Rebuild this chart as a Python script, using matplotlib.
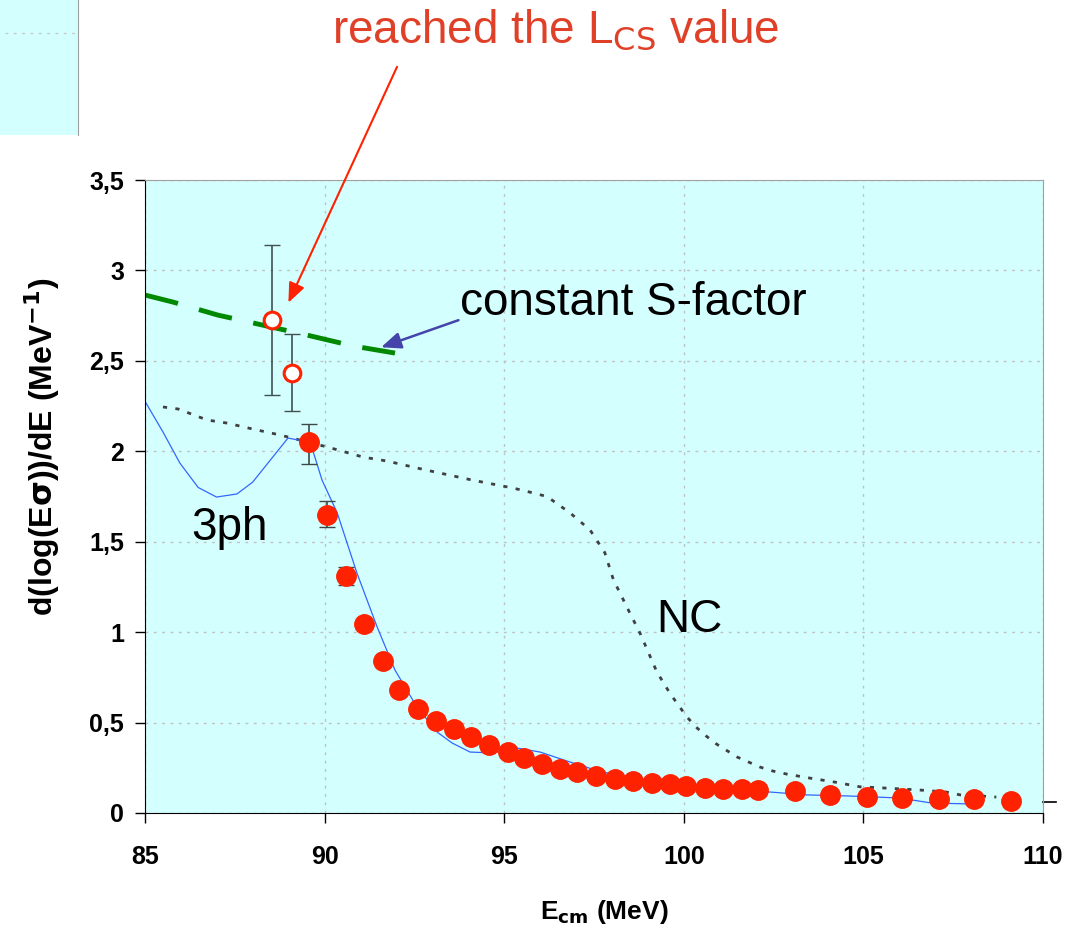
import matplotlib.pyplot as plt
from matplotlib.ticker import FuncFormatter

plt.rcParams['font.family'] = ['Liberation Sans', 'DejaVu Sans']

# measured points (filled)
e_data = [89.57, 90.07, 90.6, 91.1, 91.63, 92.07, 92.6, 93.1, 93.6, 94.07, 94.58,
          95.1, 95.55, 96.05, 96.55, 97.03, 97.55, 98.08, 98.59, 99.11, 99.62,
          100.06, 100.59, 101.09, 101.62, 102.07, 103.1, 104.07, 105.1, 106.07,
          107.1, 108.08, 109.11]
d_data = [2.05, 1.65, 1.31, 1.045, 0.84, 0.68, 0.575, 0.51, 0.465, 0.42, 0.376,
          0.337, 0.304, 0.27, 0.243, 0.227, 0.205, 0.188, 0.177, 0.166, 0.160,
          0.149, 0.138, 0.133, 0.133, 0.127, 0.122, 0.10, 0.088, 0.083,
          0.077, 0.077, 0.066]
err_lo = [0.12, 0.07, 0.05, 0.03, 0.02, 0.02, 0.01, 0.01, 0.01, 0.01, 0.01,
          0.01, 0.01, 0.01, 0.01, 0.01, 0.01, 0.01, 0.01, 0.01, 0.01,
          0.01, 0.01, 0.01, 0.01, 0.01, 0.01, 0.01, 0.01, 0.01,
          0.01, 0.01, 0.01]
err_hi = [0.10, 0.077, 0.052, 0.03, 0.02, 0.02, 0.01, 0.01, 0.01, 0.01, 0.01,
          0.01, 0.01, 0.01, 0.01, 0.01, 0.01, 0.01, 0.01, 0.01, 0.01,
          0.01, 0.01, 0.01, 0.01, 0.01, 0.01, 0.01, 0.01, 0.01,
          0.01, 0.01, 0.01]

# open points (limit)
e_open = [88.54, 89.09]
d_open = [2.726, 2.433]
open_lo = [0.416, 0.213]
open_hi = [0.414, 0.217]

# constant S-factor
e_s = [85.0, 85.78, 87.03, 88.0, 89.5, 90.8, 91.96]
d_s = [2.864, 2.825, 2.753, 2.71, 2.643, 2.582, 2.543]

# 3ph calculation
e_3ph = [84.9, 85.5, 85.97, 86.48, 86.99, 87.56, 88.0, 88.98, 89.6, 89.93, 90.35,
         90.9, 91.46, 91.96, 92.57, 93.13, 93.55, 94.05, 94.7, 95.36, 96.0, 96.83,
         97.5, 98.5, 99.5, 100.5, 101.5, 102.4, 103.43, 104.6, 106.0, 106.9, 108.0]
d_3ph = [2.31, 2.107, 1.935, 1.80, 1.747, 1.764, 1.83, 2.073, 2.05, 1.84, 1.66,
         1.327, 1.03, 0.79, 0.586, 0.448, 0.387, 0.337, 0.332, 0.359, 0.337, 0.282,
         0.24, 0.19, 0.16, 0.14, 0.125, 0.116, 0.10, 0.094, 0.083, 0.055, 0.05]

# NC calculation
e_nc = [85.5, 85.92, 86.73, 87.28, 88.0, 88.76, 90.07, 91.07, 91.74, 92.74, 94.13,
        95.16, 95.5, 96.19, 96.83, 97.39, 97.8, 98.04, 98.5, 98.78, 99.25, 99.62,
        100.09, 100.37, 100.62, 100.92, 101.48, 102.12, 102.48, 102.87, 103.51,
        104.2, 104.9, 105.6, 106.57, 107.3, 107.7, 108.3, 108.7]
d_nc = [2.245, 2.234, 2.173, 2.156, 2.123, 2.09, 2.024, 1.968, 1.946, 1.90, 1.84,
        1.80, 1.785, 1.75, 1.66, 1.565, 1.44, 1.29, 1.105, 0.995, 0.78, 0.66,
        0.53, 0.47, 0.426, 0.38, 0.31, 0.254, 0.232, 0.215, 0.193,
        0.171, 0.145, 0.138, 0.127, 0.116, 0.10, 0.094, 0.088]

x_ticks = [85, 90, 95, 100, 105, 110]
y_ticks = [0, 0.5, 1, 1.5, 2, 2.5, 3, 3.5]

bg = '#d4ffff'
red = '#ff2200'

fig = plt.figure(figsize=(10.81, 9.33), dpi=100)

# remnant panel top-left
ax0 = fig.add_axes([0, 1 - 135 / 933, 78 / 1081, 135 / 933])
ax0.set_facecolor(bg)
ax0.set_xlim(0, 1)
ax0.set_ylim(0, 1)
ax0.axhline(0.755, xmin=0.06, color='#c8c8c8', ls=(0, (2, 4)), lw=1)
for s in ['left', 'top', 'bottom']:
    ax0.spines[s].set_visible(False)
ax0.spines['right'].set_color('#a0a0a0')
ax0.set_xticks([])
ax0.set_yticks([])

ax = fig.add_axes([145 / 1081, 1 - 813 / 933, 898 / 1081, 633 / 933])
ax.set_facecolor(bg)
ax.set_xlim(85, 110)
ax.set_ylim(0, 3.5)
ax.set_xticks(x_ticks)
ax.set_yticks(y_ticks)
ax.grid(True, color='#c0c0c0', ls=(0, (2, 4)), lw=1)
ax.set_axisbelow(True)

ax.plot(e_nc, d_nc, color='#404040', ls=(0, (1.5, 3)), lw=2, zorder=2)
ax.plot(e_3ph, d_3ph, color='#3366ff', lw=0.9, zorder=2)
ax.plot(e_s, d_s, color='#008800', ls=(0, (7, 4.5)), lw=3.5, zorder=2)
ax.plot([110, 110.35], [0.062, 0.062], color='black', lw=1.2, clip_on=False)

ax.errorbar(e_data, d_data, yerr=[err_lo, err_hi], fmt='none', ecolor='#404848',
            elinewidth=1.2, capsize=5.5, zorder=3)
ax.plot(e_data, d_data, 'o', color=red, ms=14, mec=red, zorder=4)
ax.errorbar(e_open, d_open, yerr=[open_lo, open_hi], fmt='none', ecolor='#405050',
            elinewidth=1.2, capsize=5.5, zorder=3)
ax.plot(e_open, d_open, 'o', mfc='white', mec=red, mew=2.2, ms=12, zorder=4)

ax.xaxis.set_major_formatter(FuncFormatter(lambda v, p: ('%g' % v).replace('.', ',')))
ax.yaxis.set_major_formatter(FuncFormatter(lambda v, p: ('%g' % v).replace('.', ',')))
ax.tick_params(direction='out', length=7, width=1, labelsize=18)
ax.tick_params(axis='x', pad=16)
ax.tick_params(axis='y', pad=8)
for lab in ax.get_xticklabels() + ax.get_yticklabels():
    lab.set_fontweight('bold')
ax.spines['left'].set_color('black')
ax.spines['bottom'].set_color('black')
ax.spines['top'].set_color('#a0a0a0')
ax.spines['right'].set_color('#a0a0a0')

ax.set_xlabel(r'E$_{\mathbf{cm}}$ (MeV)', fontsize=19, fontweight='bold')
ax.xaxis.set_label_coords(0.511, -0.135)
ax.set_ylabel(r'd(log(E$\mathbf{\sigma}$))/dE (MeV$^{\mathbf{-1}}$)', fontsize=23,
              fontweight='bold')
ax.yaxis.set_label_coords(-0.092, 0.578)

ax.text(87.34, 1.576, '3ph', fontsize=33, ha='center', va='center')
ax.text(100.17, 1.067, 'NC', fontsize=33, ha='center', va='center')
ax.text(98.6, 2.82, 'constant S-factor', fontsize=33, ha='center', va='center')
fig.text(556 / 1081, 1 - 30 / 933, r'reached the L$_{\mathrm{CS}}$ value', fontsize=33,
         color='#e04028', ha='center', va='center')

ax.annotate('', xy=(88.96, 2.808), xytext=(92.05, 4.14),
            arrowprops=dict(arrowstyle='-|>,head_length=1.2,head_width=0.5',
                            color='#ff2200', lw=1.5), annotation_clip=False)
ax.annotate('', xy=(91.5, 2.57), xytext=(93.8, 2.73),
            arrowprops=dict(arrowstyle='-|>,head_length=1.2,head_width=0.5',
                            color='#4444aa', lw=1.8), annotation_clip=False)

fig.savefig('out.png', dpi=100)
